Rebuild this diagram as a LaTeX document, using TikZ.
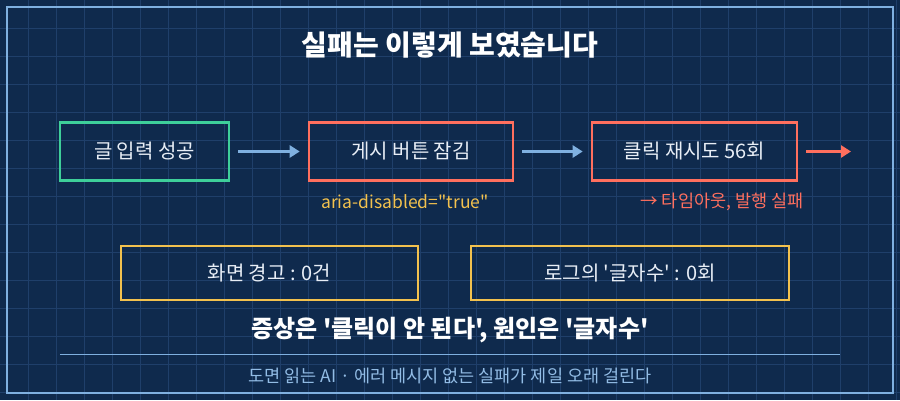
\documentclass[tikz,border=0pt]{standalone}
\usepackage{fontspec}
\newfontfamily\krfont{Noto Sans CJK KR}
\usetikzlibrary{arrows.meta}
\definecolor{bgnavy}{HTML}{0F2A4D}
\definecolor{gridline}{HTML}{1F3F6A}
\definecolor{frameblue}{HTML}{7FB0E0}
\definecolor{okgreen}{HTML}{3ECF9A}
\definecolor{failred}{HTML}{FF6F5E}
\definecolor{warnyellow}{HTML}{F2C14E}
\definecolor{textwhite}{HTML}{E8EEF6}
\newcommand{\fs}[1]{\krfont\fontsize{#1}{#1}\selectfont}

\begin{document}
\begin{tikzpicture}[x=1pt,y=-1pt,>={Triangle[length=10pt,width=12pt]},
  box/.style={draw=#1,line width=2.6pt,minimum height=58pt,text=textwhite,font=\fs{20}},
  flow/.style={->,line width=2.6pt,draw=frameblue}]
\fill[bgnavy] (0,0) rectangle (900,400);
\useasboundingbox (0,0) rectangle (900,400);
\foreach \i in {28,56,...,896} \draw[gridline,line width=1pt] (\i,0) -- (\i,400);
\foreach \j in {28,56,...,396} \draw[gridline,line width=1pt] (0,\j) -- (900,\j);
\draw[frameblue,line width=2pt] (7,7) rectangle (893,393);

\node[text=white,font=\fs{28}\bfseries] (title) at (450,45) {실패는 이렇게 보였습니다};

\node[box=okgreen,minimum width=169pt] (input) at (144.5,151.5) {글 입력 성공};
\node[box=failred,minimum width=204pt] (locked) at (411,151.5) {게시 버튼 잠김};
\node[box=failred,minimum width=205pt] (retry) at (694.5,151.5) {클릭 재시도 56회};
\coordinate (out) at (851,151.5);
\draw[flow] ([xshift=8pt]input.east) -- ([xshift=-8pt]locked.west);
\draw[flow] ([xshift=8pt]locked.east) -- ([xshift=-8pt]retry.west);
\draw[flow,draw=failred] ([xshift=8pt]retry.east) -- (out);

\node[text=warnyellow,font=\fs{17.5}] (aria) at (405,202) {aria-disabled="true"};
\node[text=failred,font=\fs{17.5}] (timeout) at (722,202) {→ 타임아웃, 발행 실패};

\node[box=warnyellow,minimum width=297pt,minimum height=54pt] (screen) at (269.5,273) {화면 경고 : 0건};
\node[box=warnyellow,minimum width=318pt,minimum height=54pt] (log) at (630,273) {로그의 '글자수' : 0회};

\node[text=white,font=\fs{24}\bfseries] (summary) at (450,330) {증상은 '클릭이 안 된다', 원인은 '글자수'};
\coordinate (rl) at (60,354);
\coordinate (rr) at (840,354);
\draw[frameblue,line width=1pt] (rl) -- (rr);
\node[text=frameblue!85!white,font=\fs{17.5}] (foot) at (450,376) {도면 읽는 AI · 에러 메시지 없는 실패가 제일 오래 걸린다};
\end{tikzpicture}
\end{document}
